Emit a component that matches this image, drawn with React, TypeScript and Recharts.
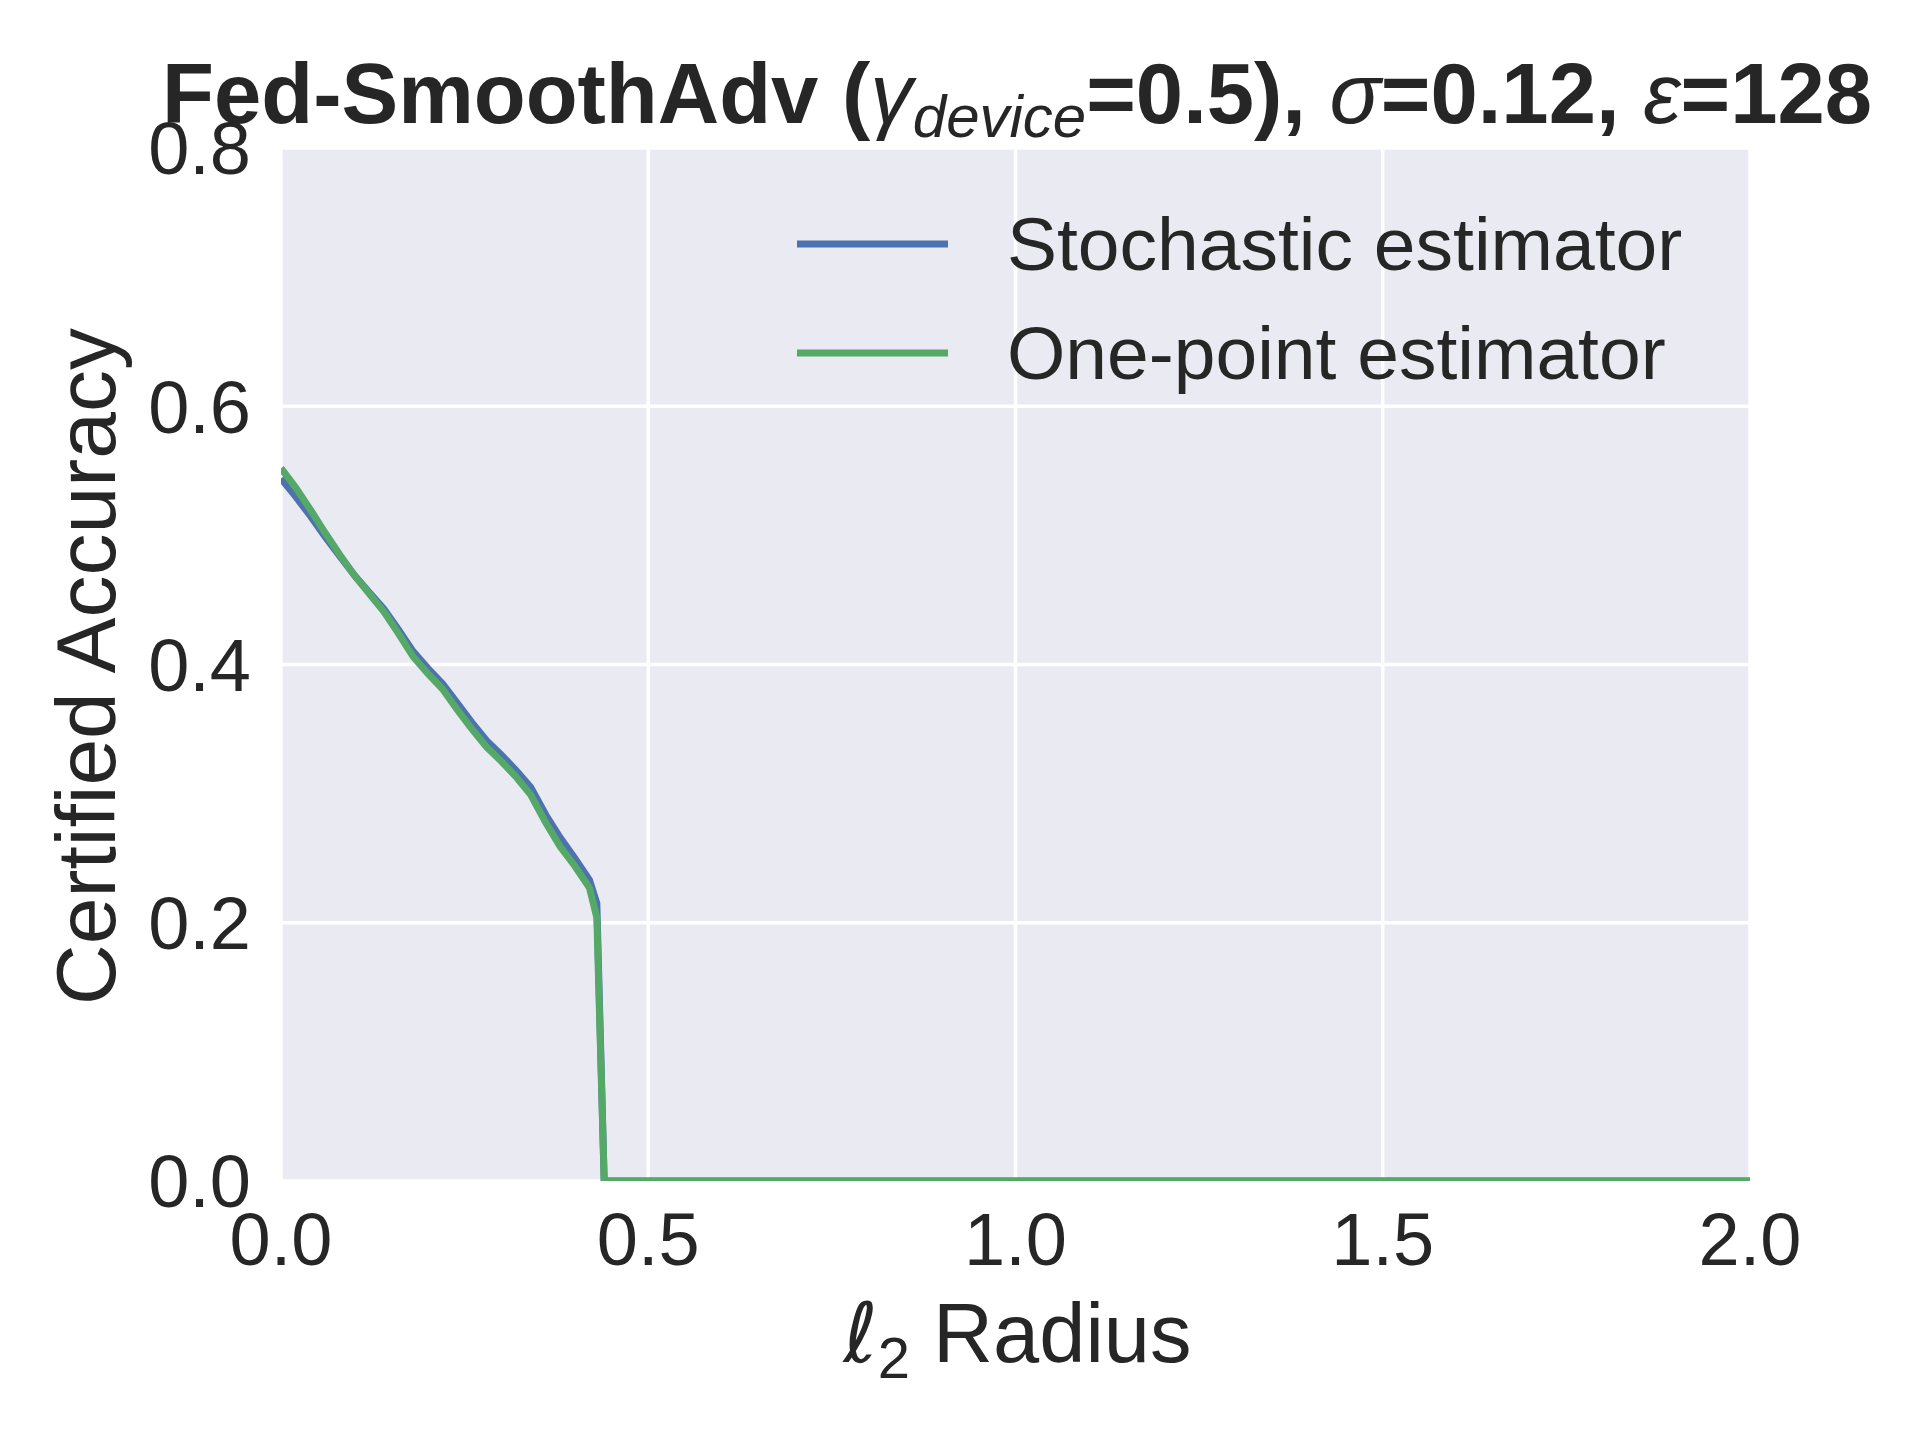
import { LineChart, Line, XAxis, YAxis, CartesianGrid, Legend } from 'recharts';

// l2 radius samples (shared by both estimators)
const RADIUS = [
  0, 0.02, 0.04, 0.06, 0.08, 0.1, 0.12, 0.14, 0.16, 0.18, 0.2, 0.22, 0.24, 0.26, 0.28, 0.3,
  0.32, 0.34, 0.36, 0.38, 0.4, 0.42, 0.43, 0.44, 2.0,
];

const STOCHASTIC = [
  0.544, 0.53, 0.515, 0.499, 0.484, 0.469, 0.456, 0.443, 0.427, 0.41, 0.397, 0.385, 0.37, 0.355,
  0.341, 0.33, 0.318, 0.305, 0.284, 0.266, 0.25, 0.233, 0.215, 0, 0,
];

const ONE_POINT = [
  0.552, 0.537, 0.52, 0.502, 0.485, 0.469, 0.455, 0.441, 0.424, 0.406, 0.393, 0.381, 0.365, 0.35,
  0.336, 0.325, 0.313, 0.299, 0.278, 0.259, 0.244, 0.227, 0.204, 0, 0,
];

const X_TICKS = [0, 0.5, 1.0, 1.5, 2.0];
const Y_TICKS = [0, 0.2, 0.4, 0.6, 0.8];

const SERIES = ['stochastic', 'onePoint'];

const COLORS: Record<string, string> = {
  stochastic: '#4C72B0',
  onePoint: '#55A868',
};

const NAMES: Record<string, string> = {
  stochastic: 'Stochastic estimator',
  onePoint: 'One-point estimator',
};

const FONT = "'Liberation Sans', Arial, Helvetica, sans-serif";
const TEXT = '#262626';
const LINE_W = 7;

const data = RADIUS.map((r, i) => ({
  radius: r,
  stochastic: STOCHASTIC[i],
  onePoint: ONE_POINT[i],
}));

function renderXLabel(props: any) {
  const vb = props.viewBox;
  return (
    <text
      x={vb.x + vb.width / 2 + 2}
      y={vb.y + 181}
      textAnchor="middle"
      fill={TEXT}
      fontFamily={FONT}
      fontSize={83}
    >
      <tspan fontFamily="'DejaVu Sans', sans-serif" fontStyle="italic">ℓ</tspan>
      <tspan fontSize={58} dy={16}>2</tspan>
      <tspan dy={-16}> Radius</tspan>
    </text>
  );
}

function renderYLabel(props: any) {
  const vb = props.viewBox;
  const cx = vb.x + 115;
  const cy = vb.y + vb.height / 2 + 2;
  return (
    <text
      x={cx}
      y={cy}
      transform={`rotate(-90 ${cx} ${cy})`}
      textAnchor="middle"
      fill={TEXT}
      fontFamily={FONT}
      fontSize={84}
    >
      Certified Accuracy
    </text>
  );
}

// legend keeps the plotting order: stochastic first, one-point second
function renderLegend() {
  return (
    <svg width={1000} height={240} style={{ overflow: 'visible' }}>
      {SERIES.map((key, i) => {
        const y = 64 + i * 109;
        return (
          <g key={key}>
            <line x1={0} y1={y} x2={151} y2={y} stroke={COLORS[key]} strokeWidth={LINE_W} />
            <text x={210} y={y + 26} fill={TEXT} fontFamily={FONT} fontSize={75}>
              {NAMES[key]}
            </text>
          </g>
        );
      })}
    </svg>
  );
}

export default function App() {
  return (
    <div style={{ position: 'absolute', left: 0, top: 0, width: 1920, height: 1440, background: '#fff' }}>
      <LineChart
        width={1920}
        height={1440}
        data={data}
        margin={{ top: 148, right: 170, bottom: 0, left: 0 }}
      >
        <CartesianGrid stroke="#ffffff" strokeWidth={3.5} fill="#EAEAF2" fillOpacity={1} />
        <XAxis
          dataKey="radius"
          type="number"
          domain={[0, 2]}
          ticks={X_TICKS}
          tickFormatter={(v: number) => v.toFixed(1)}
          axisLine={false}
          tickLine={false}
          tickSize={0}
          tickMargin={31}
          height={259}
          tick={{ fill: TEXT, fontSize: 74, fontFamily: FONT }}
          label={renderXLabel}
          allowDataOverflow
        />
        <YAxis
          type="number"
          domain={[0, 0.8]}
          ticks={Y_TICKS}
          tickFormatter={(v: number) => v.toFixed(1)}
          axisLine={false}
          tickLine={false}
          tickSize={0}
          tickMargin={30}
          width={281}
          tick={{ fill: TEXT, fontSize: 74, fontFamily: FONT }}
          label={renderYLabel}
          allowDataOverflow
        />
        <Legend
          layout="horizontal"
          verticalAlign="middle"
          align="center"
          content={renderLegend}
          wrapperStyle={{ left: 797, top: 180, width: 1000, height: 0 }}
        />
        {SERIES.map((key) => (
          <Line
            key={key}
            type="linear"
            dataKey={key}
            name={NAMES[key]}
            stroke={COLORS[key]}
            strokeWidth={LINE_W}
            dot={false}
            isAnimationActive={false}
          />
        ))}
      </LineChart>
      <svg
        width={1920}
        height={200}
        style={{ position: 'absolute', left: 0, top: 0, pointerEvents: 'none' }}
      >
        <text x={1017} y={123} textAnchor="middle" fill={TEXT} fontFamily={FONT} fontSize={85} fontWeight="bold">
          Fed-SmoothAdv (
          <tspan fontStyle="italic" fontWeight="normal">γ</tspan>
          <tspan fontStyle="italic" fontWeight="normal" fontSize={60} dy={14}>device</tspan>
          <tspan dy={-14}>=0.5), </tspan>
          <tspan fontStyle="italic" fontWeight="normal">σ</tspan>
          <tspan>=0.12, </tspan>
          <tspan fontStyle="italic" fontWeight="normal">ε</tspan>
          <tspan>=128</tspan>
        </text>
      </svg>
    </div>
  );
}
